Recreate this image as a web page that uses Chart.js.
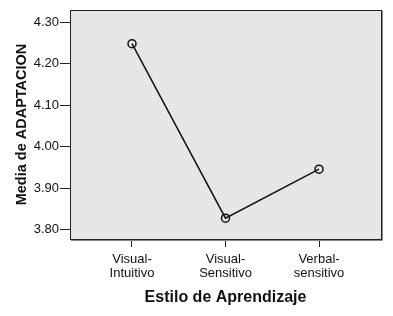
<!DOCTYPE html>
<html lang="es">
<head>
    <meta charset="UTF-8">
    <title>Media de ADAPTACION por Estilo de Aprendizaje</title>
    <style>
        body { margin: 0; padding: 0; background: #ffffff; }
        #wrap { width: 393px; height: 316px; }
    </style>
    <script src="https://cdn.jsdelivr.net/npm/chart.js"></script>
</head>
<body>
    <div id="wrap"><canvas id="lineChart" width="393" height="316"></canvas></div>

    <script>
        // Data
        const categories = [['Visual-', 'Intuitivo'], ['Visual-', 'Sensitivo'], ['Verbal-', 'sensitivo']];
        const means = [4.248, 3.828, 3.946];
        const yTicks = [3.80, 3.90, 4.00, 4.10, 4.20, 4.30];

        const font = "'Liberation Sans', Arial, sans-serif";

        // dotted grey fill like the SPSS plot area
        function makePattern(ctx) {
            const c = document.createElement('canvas');
            c.width = 4; c.height = 4;
            const p = c.getContext('2d');
            p.fillStyle = '#e4e4e4';
            p.fillRect(0, 0, 4, 4);
            p.fillStyle = '#f8f8f8';
            p.fillRect(0, 0, 1, 1);
            p.fillRect(2, 2, 1, 1);
            return ctx.createPattern(c, 'repeat');
        }

        const plotFrame = {
            id: 'plotFrame',
            beforeDatasetsDraw(chart) {
                const { ctx, chartArea: a } = chart;
                ctx.save();
                ctx.fillStyle = makePattern(ctx);
                ctx.fillRect(a.left, a.top, a.right - a.left, a.bottom - a.top);
                // shadow on right and bottom
                ctx.strokeStyle = '#8a8a8a';
                ctx.lineWidth = 1;
                ctx.beginPath();
                ctx.moveTo(a.right + 1.5, a.top + 1);
                ctx.lineTo(a.right + 1.5, a.bottom + 1.5);
                ctx.lineTo(a.left + 1, a.bottom + 1.5);
                ctx.stroke();
                ctx.strokeStyle = '#222222';
                ctx.strokeRect(a.left + 0.5, a.top + 0.5, a.right - a.left, a.bottom - a.top);
                ctx.restore();
            }
        };

        const ctx = document.getElementById('lineChart').getContext('2d');

        new Chart(ctx, {
            type: 'line',
            data: {
                datasets: [{
                    data: means.map((v, i) => ({ x: i, y: v })),
                    borderColor: '#111111',
                    borderWidth: 1.5,
                    pointRadius: 4,
                    pointBorderWidth: 1.5,
                    pointBorderColor: '#111111',
                    pointBackgroundColor: 'rgba(0,0,0,0)',
                    tension: 0
                }]
            },
            options: {
                responsive: false,
                animation: false,
                layout: { padding: { top: 10, right: 12, left: 0, bottom: 0 } },
                plugins: {
                    legend: { display: false },
                    tooltip: { enabled: false }
                },
                scales: {
                    x: {
                        type: 'linear',
                        min: -0.663,
                        max: 2.663,
                        afterBuildTicks: scale => { scale.ticks = categories.map((c, i) => ({ value: i })); },
                        afterFit: scale => { scale.height = 77; },
                        ticks: {
                            callback: v => categories[v],
                            color: '#111111',
                            font: { family: font, size: 13, lineHeight: 1.08 },
                            padding: 5,
                            maxRotation: 0
                        },
                        grid: { drawOnChartArea: false, tickLength: 8, tickColor: '#222222' },
                        border: { display: false },
                        title: {
                            display: true,
                            text: 'Estilo de Aprendizaje',
                            color: '#111111',
                            font: { family: font, size: 16, weight: 'bold' },
                            padding: { top: 0, bottom: 9 }
                        }
                    },
                    y: {
                        min: 3.778,
                        max: 4.329,
                        afterBuildTicks: scale => { scale.ticks = yTicks.map(v => ({ value: v })); },
                        afterFit: scale => { scale.width = 70; },
                        ticks: {
                            callback: v => v.toFixed(2),
                            color: '#111111',
                            font: { family: font, size: 13 },
                            padding: 1
                        },
                        grid: { drawOnChartArea: false, tickLength: 10, tickColor: '#222222' },
                        border: { display: false },
                        title: {
                            display: true,
                            text: 'Media de ADAPTACION',
                            color: '#111111',
                            font: { family: font, size: 14.5, weight: 'bold' },
                            padding: { top: 13, bottom: 0 }
                        }
                    }
                }
            },
            plugins: [plotFrame]
        });
    </script>
</body>
</html>
